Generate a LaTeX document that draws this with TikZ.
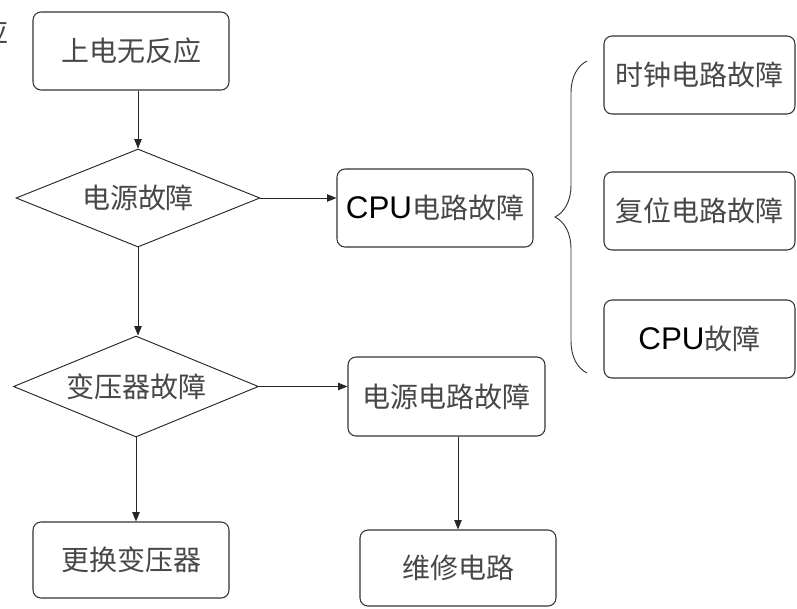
\documentclass[tikz,border=0pt]{standalone}
\usepackage{fontspec}
\setmainfont{Noto Sans CJK SC}
\newfontfamily\lat{Liberation Sans}
\newcommand\cpu{{\lat\fontsize{23.5}{25}\selectfont\color{black}CPU}}
\usetikzlibrary{shapes.geometric,arrows.meta,decorations.pathreplacing}
\begin{document}
\begin{tikzpicture}[x=0.75pt,y=-0.75pt,
  txt/.style={text=black!72, font=\fontsize{21}{25}\selectfont},
  box/.style={txt, draw=black!80, line width=0.8pt, rounded corners=6pt, inner sep=0pt, minimum width=147pt, minimum height=58.5pt},
  dia/.style={txt, draw=black!85, line width=0.7pt, diamond, shape aspect=2.5, inner sep=0pt},
  arr/.style={draw=black!85, line width=0.7pt, -{Triangle[length=7pt,width=5.5pt]}}]
\useasboundingbox (0,0) rectangle (797,608);
\fill[white] (0,0) rectangle (797,608);
\begin{scope}
\clip (0,0) rectangle (797,608);
\node[txt, anchor=east, inner sep=0pt] (frag) at (9,32) {应};
\end{scope}
% left column
\node[box] (start) at (131,51) {上电无反应};
\node[dia, minimum width=183pt, minimum height=73.5pt] (d1) at (138,198) {电源故障};
\node[box] (cpu) at (435,208) {\cpu 电路故障};
\node[dia, minimum width=183.75pt, minimum height=75.75pt] (d2) at (136,386.5) {变压器故障};
\node[box, minimum width=147.75pt, minimum height=59.25pt] (pw) at (446.5,396.5) {电源电路故障};
\node[box, minimum height=57pt] (rep) at (131,560) {更换变压器};
\node[box, minimum height=57pt] (fix) at (458,568) {维修电路};
% right column
\node[box, minimum width=143.25pt] (ra) at (699.5,75) {时钟电路故障};
\node[box, minimum width=143.25pt] (rb) at (699.5,211) {复位电路故障};
\node[box, minimum width=143.25pt] (rc) at (699.5,339) {\cpu 故障};
% connectors
\draw[arr] (start.south -| d1.north) -- (d1.north);
\draw[arr] (d1.east) -- (d1.east -| cpu.west);
\draw[arr] (d1.south) -- (d1.south |- d2.north);
\draw[arr] (d2.east) -- (d2.east -| pw.west);
\draw[arr] (d2.south) -- (d2.south |- rep.north);
\draw[arr] (fix.north |- pw.south) -- (fix.north);
% brace
\draw[black!80, line width=0.7pt, decorate, decoration={brace, amplitude=24pt}] (587,373) -- (587,61);
\end{tikzpicture}
\end{document}
